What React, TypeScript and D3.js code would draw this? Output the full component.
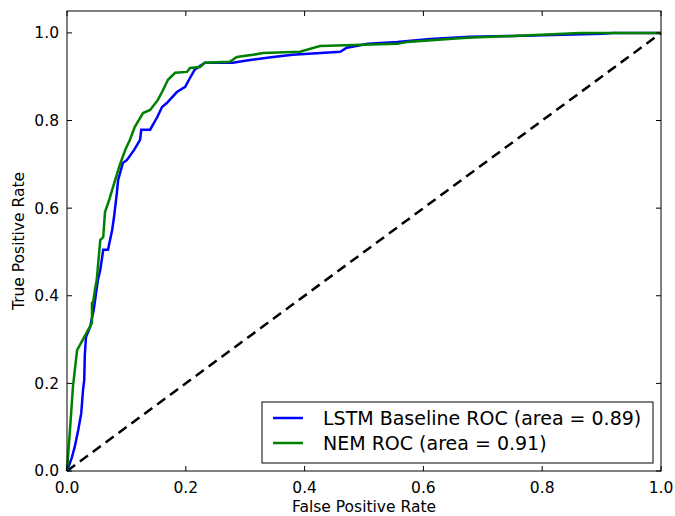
import React from 'react';
import * as d3 from 'd3';

// ROC points: false positive rate / true positive rate
const lstmFpr = [0, 0.008, 0.013, 0.019, 0.024, 0.027, 0.029, 0.030, 0.032, 0.039, 0.045, 0.052, 0.056, 0.061, 0.069, 0.076, 0.079, 0.084, 0.086, 0.094, 0.101, 0.113, 0.123, 0.125, 0.140, 0.152, 0.160, 0.168, 0.185, 0.199, 0.207, 0.215, 0.232, 0.279, 0.308, 0.347, 0.380, 0.460, 0.471, 0.507, 0.556, 0.611, 0.678, 0.751, 0.902, 0.919, 1];
const lstmTpr = [0, 0.030, 0.055, 0.094, 0.132, 0.185, 0.208, 0.265, 0.306, 0.329, 0.368, 0.436, 0.459, 0.505, 0.505, 0.550, 0.578, 0.635, 0.664, 0.703, 0.710, 0.733, 0.756, 0.779, 0.779, 0.808, 0.831, 0.840, 0.865, 0.877, 0.897, 0.916, 0.932, 0.932, 0.938, 0.945, 0.950, 0.957, 0.966, 0.975, 0.979, 0.986, 0.991, 0.993, 0.998, 1.0, 1];

const nemFpr = [0, 0.005, 0.010, 0.017, 0.042, 0.042, 0.044, 0.047, 0.050, 0.056, 0.061, 0.064, 0.071, 0.081, 0.089, 0.098, 0.106, 0.114, 0.128, 0.140, 0.153, 0.160, 0.170, 0.182, 0.202, 0.207, 0.224, 0.232, 0.274, 0.286, 0.313, 0.330, 0.392, 0.426, 0.556, 0.572, 0.673, 0.751, 0.864, 1];
const nemTpr = [0, 0.094, 0.192, 0.276, 0.338, 0.384, 0.386, 0.413, 0.436, 0.527, 0.534, 0.591, 0.619, 0.664, 0.699, 0.733, 0.756, 0.785, 0.817, 0.824, 0.847, 0.865, 0.893, 0.909, 0.911, 0.920, 0.922, 0.932, 0.934, 0.945, 0.950, 0.954, 0.957, 0.970, 0.975, 0.979, 0.989, 0.993, 1.0, 1];

const chanceLine = [0, 1];
const tickValues = [0, 0.2, 0.4, 0.6, 0.8, 1.0];
const legendLabels = ['LSTM Baseline ROC (area = 0.89)', 'NEM ROC (area = 0.91)'];
const seriesColors = ['#0000ff', '#008000'];

const width = 675;
const height = 516;
const margin = { left: 67, right: 14, top: 11, bottom: 45 };
const font = '"DejaVu Sans", sans-serif';

export default function App() {
    const x = d3.scaleLinear().domain([0, 1]).range([margin.left, width - margin.right]);
    const y = d3.scaleLinear().domain([0, 1.05]).range([height - margin.bottom, margin.top]);

    const line = d3.line<[number, number]>()
        .x(d => x(d[0]))
        .y(d => y(d[1]));

    const lstm = lstmFpr.map((f, i) => [f, lstmTpr[i]] as [number, number]);
    const nem = nemFpr.map((f, i) => [f, nemTpr[i]] as [number, number]);
    const chance = chanceLine.map(v => [v, v] as [number, number]);

    const x0 = x(0), x1 = x(1), yb = y(0), yt = y(1.05);
    const tickLen = 5;

    return (
        <svg width={width} height={height} style={{ position: 'absolute', left: 0, top: 0 }}>
            <rect x={0} y={0} width={width} height={height} fill="#fff" />

            <path d={line(chance) || ''} fill="none" stroke="#000" strokeWidth={2.5} strokeDasharray="10,6" />
            <path d={line(lstm) || ''} fill="none" stroke={seriesColors[0]} strokeWidth={2.5} />
            <path d={line(nem) || ''} fill="none" stroke={seriesColors[1]} strokeWidth={2.5} />

            {/* ticks, inward on all four sides */}
            {tickValues.map(t => (
                <g key={'x' + t}>
                    <line x1={x(t)} x2={x(t)} y1={yb} y2={yb - tickLen} stroke="#000" />
                    <line x1={x(t)} x2={x(t)} y1={yt} y2={yt + tickLen} stroke="#000" />
                    <text x={x(t)} y={yb + 22} textAnchor="middle" fontFamily={font} fontSize={15.5} fill="#000">
                        {t.toFixed(1)}
                    </text>
                </g>
            ))}
            {tickValues.map(t => (
                <g key={'y' + t}>
                    <line x1={x0} x2={x0 + tickLen} y1={y(t)} y2={y(t)} stroke="#000" />
                    <line x1={x1} x2={x1 - tickLen} y1={y(t)} y2={y(t)} stroke="#000" />
                    <text x={x0 - 8} y={y(t)} dy="0.35em" textAnchor="end" fontFamily={font} fontSize={15.5} fill="#000">
                        {t.toFixed(1)}
                    </text>
                </g>
            ))}

            <rect x={x0} y={yt} width={x1 - x0} height={yb - yt} fill="none" stroke="#000" strokeWidth={1} />

            <text x={(x0 + x1) / 2} y={512} textAnchor="middle" fontFamily={font} fontSize={15.5} fill="#000">
                False Positive Rate
            </text>
            <text transform={`translate(24,${(yt + yb) / 2}) rotate(-90)`} textAnchor="middle" fontFamily={font} fontSize={15.5} fill="#000">
                True Positive Rate
            </text>

            {/* legend */}
            <g>
                <rect x={262} y={402} width={391} height={61} fill="#fff" stroke="#000" strokeWidth={1} />
                {legendLabels.map((lab, i) => (
                    <g key={lab} transform={`translate(0,${418 + i * 25})`}>
                        <line x1={273} x2={303} y1={0} y2={0} stroke={seriesColors[i]} strokeWidth={2.5} />
                        <text x={323} y={0} dy="0.35em" fontFamily={font} fontSize={19} fill="#000">{lab}</text>
                    </g>
                ))}
            </g>
        </svg>
    );
}
